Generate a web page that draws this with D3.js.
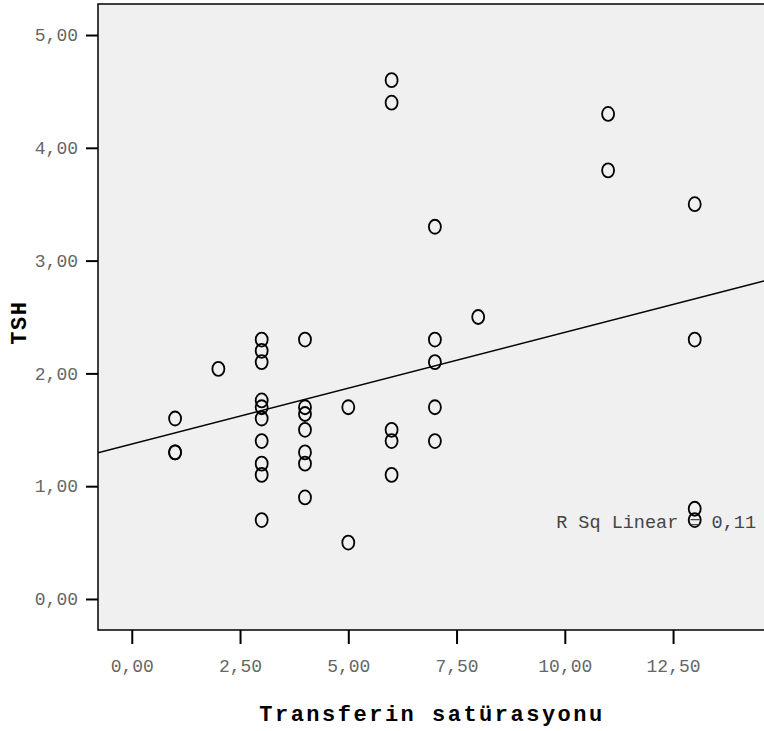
<!DOCTYPE html>
<html>
<head>
<meta charset="utf-8">
<script src="https://cdn.jsdelivr.net/npm/d3@7"></script>
<style>
  html, body { margin: 0; padding: 0; background: #ffffff; }
  svg { display: block; }
</style>
</head>
<body>
<svg id="chart" width="764" height="731"></svg>
<script>
// ---- data ----
const transferin = [1,1,1,2,3,3,3,3,3,3,3,3,3,3,4,4,4,4,4,4,4,5,5,6,6,6,6,6,7,7,7,7,7,8,11,11,13,13,13,13];
const tsh        = [1.6,1.3,1.3,2.04,2.3,2.2,2.1,1.76,1.7,1.6,1.4,1.2,1.1,0.7,2.3,1.7,1.64,1.5,1.3,1.2,0.9,1.7,0.5,4.6,4.4,1.5,1.4,1.1,3.3,2.3,2.1,1.7,1.4,2.5,4.3,3.8,3.5,2.3,0.8,0.7];
const xTicks = [0, 2.5, 5, 7.5, 10, 12.5];
const yTicks = [0, 1, 2, 3, 4, 5];
const xTitle = "Transferin satürasyonu";
const yTitle = "TSH";
const rsqLabel = "R Sq Linear = 0,11";

// ---- layout ----
const W = 764, H = 731;
const plot = { left: 98, top: 4, right: 764, bottom: 630 };
const svg = d3.select("#chart");

const x = d3.scaleLinear().domain([-0.78, 14.6]).range([plot.left, plot.right]);
const y = d3.scaleLinear().domain([-0.275, 5.275]).range([plot.bottom, plot.top]);
const fmt = d => d3.format(".2f")(d).replace(".", ",");

// background
svg.append("rect")
  .attr("x", plot.left).attr("y", plot.top)
  .attr("width", plot.right - plot.left + 10).attr("height", plot.bottom - plot.top)
  .attr("fill", "#f0f0f0").attr("stroke", "#000").attr("stroke-width", 1.5);

const mono = "'Liberation Mono', 'Courier New', monospace";

// x axis
const xAxis = svg.append("g").attr("transform", `translate(0,${plot.bottom})`)
  .call(d3.axisBottom(x).tickValues(xTicks).tickFormat(fmt).tickSize(14).tickPadding(15));
// y axis
const yAxis = svg.append("g").attr("transform", `translate(${plot.left},0)`)
  .call(d3.axisLeft(y).tickValues(yTicks).tickFormat(fmt).tickSize(12).tickPadding(8));
[xAxis, yAxis].forEach(g => {
  g.select(".domain").remove();
  g.selectAll(".tick line").attr("stroke", "#000").attr("stroke-width", 2);
  g.selectAll(".tick text").attr("font-family", mono).attr("font-size", 18).attr("fill", "#666");
});

// clip
svg.append("clipPath").attr("id", "clip").append("rect")
  .attr("x", plot.left).attr("y", plot.top)
  .attr("width", plot.right - plot.left).attr("height", plot.bottom - plot.top);

// regression fit computed from data
const mx = d3.mean(transferin), my = d3.mean(tsh);
let sxy = 0, sxx = 0;
transferin.forEach((v, i) => { sxy += (v - mx) * (tsh[i] - my); sxx += (v - mx) * (v - mx); });
const slope = sxy / sxx, intercept = my - slope * mx;
const xd = x.domain();
svg.append("line")
  .attr("clip-path", "url(#clip)")
  .attr("x1", x(xd[0])).attr("y1", y(intercept + slope * xd[0]))
  .attr("x2", x(xd[1])).attr("y2", y(intercept + slope * xd[1]))
  .attr("stroke", "#000").attr("stroke-width", 1.5);

// points
svg.append("g").selectAll("ellipse")
  .data(transferin.map((v, i) => [v, tsh[i]]))
  .join("ellipse")
  .attr("cx", d => x(d[0])).attr("cy", d => y(d[1]))
  .attr("rx", 6).attr("ry", 7)
  .attr("fill", "none").attr("stroke", "#000").attr("stroke-width", 1.8);

// R sq label
svg.append("text")
  .attr("x", 756).attr("y", 522).attr("dy", "0.35em")
  .attr("text-anchor", "end")
  .attr("font-family", mono).attr("font-size", 18.5).attr("fill", "#444")
  .text(rsqLabel);

// titles
svg.append("text")
  .attr("x", 432).attr("y", 713).attr("dy", "0.35em")
  .attr("text-anchor", "middle")
  .attr("font-family", mono).attr("font-weight", "bold").attr("font-size", 22)
  .attr("letter-spacing", 2.5).attr("fill", "#000")
  .text(xTitle);
svg.append("text")
  .attr("transform", `translate(18,${y(2.45)}) rotate(-90)`)
  .attr("dy", "0.35em")
  .attr("text-anchor", "middle")
  .attr("font-family", mono).attr("font-weight", "bold").attr("font-size", 22)
  .attr("letter-spacing", 1.5).attr("fill", "#000")
  .text(yTitle);
</script>
</body>
</html>
